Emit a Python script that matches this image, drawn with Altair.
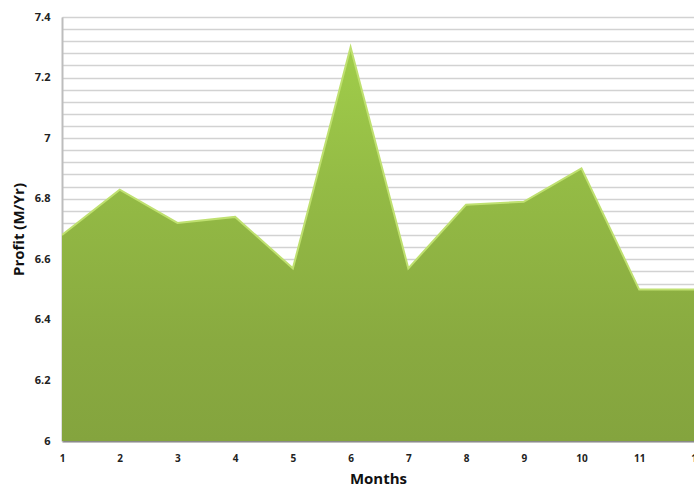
import altair as alt
import pandas as pd

# Monthly profit figures (millions per year)
months = [1, 2, 3, 4, 5, 6, 7, 8, 9, 10, 11, 12]
profit = [6.68, 6.83, 6.72, 6.74, 6.57, 7.30, 6.57, 6.78, 6.79, 6.90, 6.50, 6.50]

# Axis tick positions
grid_values = [round(6 + 0.04 * k, 2) for k in range(36)]
month_ticks = months
y_min, y_max = 6, 7.4

df = pd.DataFrame({"Month": months, "Profit": profit})
last_tick = pd.DataFrame({"Month": [month_ticks[-1]], "Profit": [y_min], "label": [str(month_ticks[-1])]})

font = "Open Sans"

x_scale = alt.Scale(domain=[1, 11.95], nice=False, zero=False)
y_scale = alt.Scale(domain=[y_min, y_max], nice=False, zero=False)

x_axis = alt.Axis(
    values=month_ticks,
    format="d",
    title="Months",
    titleFont=font,
    titleFontSize=15,
    titleFontWeight="bold",
    titleColor="#111111",
    titlePadding=8,
    labelFont=font,
    labelFontSize=10,
    labelFontWeight="bold",
    labelColor="#222222",
    labelPadding=12,
    ticks=False,
    grid=False,
    domainColor="#8a8a8a",
    domainWidth=2,
    labelFlush=False,
    labelOverlap=False,
)

y_axis = alt.Axis(
    values=grid_values,
    labelExpr="abs(datum.value*5 - round(datum.value*5)) < 0.001 ? format(datum.value, '~g') : ''",
    title="Profit (M/Yr)",
    titleFont=font,
    titleFontSize=15,
    titleFontWeight="bold",
    titleColor="#111111",
    titlePadding=8,
    labelFont=font,
    labelFontSize=11,
    labelFontWeight="bold",
    labelColor="#222222",
    labelPadding=12,
    ticks=False,
    grid=True,
    gridColor="#d2d2d2",
    gridWidth=1.5,
    domainColor="#bdbdbd",
    domainWidth=2,
    labelOverlap=False,
    labelFlush=False,
)

area = alt.Chart(df).mark_area(
    clip=True,
    opacity=1,
    fillOpacity=1,
    line={"color": "#bfe070", "strokeWidth": 2},
    fill=alt.Gradient(
        gradient="linear",
        stops=[
            alt.GradientStop(color="#a0cd4a", offset=0),
            alt.GradientStop(color="#94bb45", offset=0.35),
            alt.GradientStop(color="#89aa40", offset=0.75),
            alt.GradientStop(color="#84a43e", offset=1),
        ],
        x1=0, x2=0, y1=0, y2=1,
    ),
).encode(
    x=alt.X("Month:Q", scale=x_scale, axis=x_axis),
    y=alt.Y("Profit:Q", scale=y_scale, axis=y_axis),
    y2=alt.datum(y_min),
)

# Label for the last month, which sits past the right edge of the view
end_label = alt.Chart(last_tick).mark_text(
    font=font, fontSize=10, fontWeight="bold", color="#222222", baseline="top", dy=13
).encode(
    x=alt.X("Month:Q", scale=x_scale, axis=x_axis),
    y=alt.Y("Profit:Q", scale=y_scale, axis=y_axis),
    text="label:N",
)

chart = (
    alt.layer(area, end_label)
    .properties(
        width=632,
        height=424,
        autosize=alt.AutoSizeParams(type="none"),
        padding={"left": 62, "top": 17, "right": 0, "bottom": 45},
    )
    .configure_view(stroke=None)
    .configure(background="white")
)

chart.save("out.html", embed_options={"renderer": "svg", "actions": False})
